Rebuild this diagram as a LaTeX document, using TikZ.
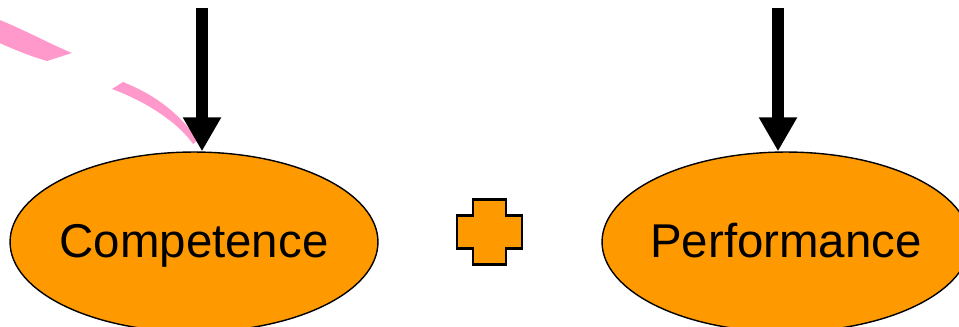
\documentclass[tikz,border=0pt]{standalone}
\usepackage{fontspec}
\setmainfont{Liberation Sans}
\usetikzlibrary{arrows.meta,shapes.geometric}
\definecolor{skillorange}{HTML}{FF9900}
\definecolor{strokepink}{HTML}{FF99CC}
\begin{document}
\begin{tikzpicture}[
        x=0.02cm, y=-0.02cm,
        blob/.style={ellipse, draw, line width=0.8pt, fill=skillorange, minimum width=7.36cm, minimum height=3.6cm, inner xsep=-4pt, inner ysep=0pt, text height=19.4pt, text depth=1.9pt, font=\fontsize{27}{30}\selectfont},
        bigarrow/.style={line width=0.24cm, -{Triangle[length=0.68cm, width=0.72cm]}},
        brush/.style={fill=strokepink}
    ]
        \useasboundingbox (0,0) rectangle (959,326);
        \clip (0,0) rectangle (959,326);
        % two boxes
        \node[blob] (comp) at (194,242) {Competence};
        \node[blob] (perf) at (786,242) {Performance};
        % pink brush stroke into the left box (two pieces)
        \fill[brush] (-5,18) .. controls (25,30) and (50,44) .. (72,53) -- (47,61)
            .. controls (30,56) and (15,50) .. (-5,41) -- cycle;
        \fill[brush] (112,89) -- (123,82) .. controls (150,93) and (175,108) .. (198,140)
            -- (193,144) .. controls (180,125) and (150,103) .. cycle;
        % arrows from above
        \coordinate (compin) at (202,8);
        \coordinate (perfin) at (778,8);
        \draw[bigarrow] (compin) -- (comp.north -| compin);
        \draw[bigarrow] (perfin) -- (perf.north -| perfin);
        % plus sign
        \coordinate (plus) at (489.5,232);
        \draw[fill=skillorange, line width=1.2pt, shift={(plus)}]
            (-16.5,-32.5) -- (16.5,-32.5) -- (16.5,-16.5) -- (32.5,-16.5) -- (32.5,16.5)
            -- (16.5,16.5) -- (16.5,32.5) -- (-16.5,32.5) -- (-16.5,16.5) -- (-32.5,16.5)
            -- (-32.5,-16.5) -- (-16.5,-16.5) -- cycle;
    \end{tikzpicture}
\end{document}
